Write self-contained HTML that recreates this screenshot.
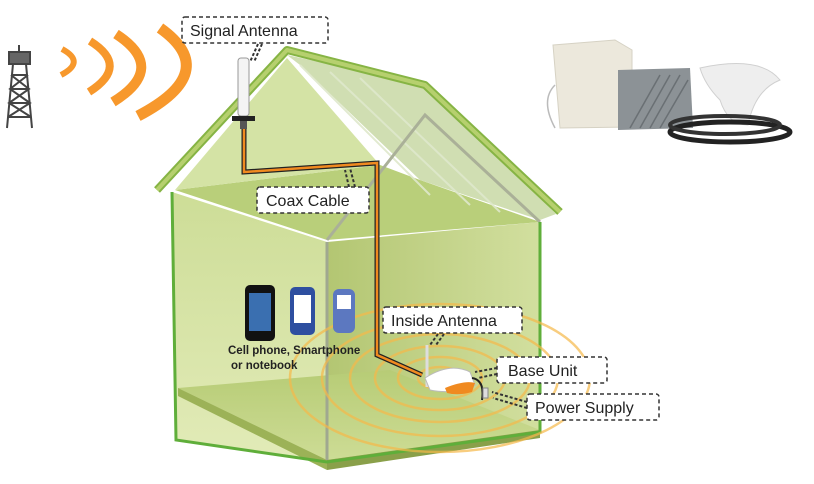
<!DOCTYPE html>
<html><head><meta charset="utf-8"><style>
html,body{margin:0;padding:0;background:#fff}
svg{display:block}
text{font-family:"Liberation Sans",sans-serif}
</style></head><body>
<svg width="814" height="484" viewBox="0 0 814 484" xmlns="http://www.w3.org/2000/svg">
<defs>
<linearGradient id="wall" x1="0" y1="0" x2="0" y2="1"><stop offset="0" stop-color="#cddd97"/><stop offset="1" stop-color="#e2ebb8"/></linearGradient>
<linearGradient id="wallr" x1="0" y1="0" x2="1" y2="0"><stop offset="0" stop-color="#b3c672"/><stop offset="1" stop-color="#d2df9f"/></linearGradient>
<linearGradient id="floor" x1="0" y1="0" x2="0" y2="1"><stop offset="0" stop-color="#b7cc76"/><stop offset="1" stop-color="#cddc95"/></linearGradient>
</defs>
<!-- tower -->
<g stroke="#444" stroke-width="2" fill="none">
<rect x="9" y="52" width="21" height="12" fill="#666"/>
<path d="M13 64 L7 128 M26 64 L32 128 M11 75 L28 75 M10 89 L29 89 M9 103 L30 103 M8 117 L31 117 M11 75 L29 89 L9 103 L31 117 M28 75 L10 89 L30 103 L8 117"/>
<line x1="19" y1="45" x2="19" y2="52"/>
</g>
<!-- waves -->
<g fill="none" stroke="#f7982c" stroke-linecap="butt">
<path d="M62 49 Q86 62 61 75" stroke-width="6"/>
<path d="M90 41 Q130 66 89 92" stroke-width="8"/>
<path d="M116 34 Q168 68 113 102" stroke-width="10"/>
<path d="M160 28 Q222 72 138 116" stroke-width="11"/>
</g>
<!-- house -->
<polygon points="172,192 176,440 327,462 327,242" fill="url(#wall)"/>
<polygon points="327,242 540,222 540,432 327,462" fill="url(#wallr)"/>
<polygon points="178,388 327,460 540,430 390,370" fill="url(#floor)"/>
<polygon points="178,388 327,460 327,470 178,396" fill="#9cb257"/>
<polygon points="327,460 540,430 540,438 327,470" fill="#8aa04a"/>
<!-- ceiling -->
<polygon points="175,190 327,240 540,222 420,180 380,165" fill="#b9cf7a"/>
<!-- gable -->
<polygon points="175,190 287,58 380,165" fill="#d4e3a5"/>
<!-- roof right (translucent) -->
<polygon points="287,55 425,85 556,214 540,220 420,180 300,65" fill="#c8d8a5" opacity="0.85"/>
<g stroke="#dfe8cc" stroke-width="2" opacity="0.9">
<line x1="300" y1="65" x2="430" y2="195"/><line x1="330" y1="72" x2="470" y2="205"/><line x1="360" y1="78" x2="500" y2="212"/>
</g>
<polyline points="327,242 327,460" stroke="#a0a890" stroke-width="3" fill="none"/>
<polyline points="327,240 425,115 540,222" stroke="#aab098" stroke-width="3" fill="none"/>
<!-- roof edges -->
<polyline points="157,190 287,50 425,85 560,212" stroke="#86b444" stroke-width="8" fill="none" stroke-linejoin="round"/>
<polyline points="157,190 287,50 425,85 560,212" stroke="#b6d06e" stroke-width="4" fill="none" stroke-linejoin="round"/>
<polyline points="172,192 176,440 327,462 540,432 540,222" stroke="#5fae3a" stroke-width="3" fill="none"/>
<!-- rings -->
<g fill="none" stroke="#f6b94a" stroke-width="2.5" opacity="0.7">
<ellipse cx="440" cy="378" rx="22" ry="11"/><ellipse cx="440" cy="378" rx="42" ry="21"/>
<ellipse cx="440" cy="378" rx="65" ry="32"/><ellipse cx="440" cy="378" rx="90" ry="44"/>
<ellipse cx="440" cy="378" rx="118" ry="58"/><ellipse cx="440" cy="378" rx="150" ry="74"/>
</g>
<!-- cable -->
<polyline points="244,128 244,172 377,163 377,355 422,375" fill="none" stroke="#222" stroke-width="5"/>
<polyline points="244,128 244,172 377,163 377,355 422,375" fill="none" stroke="#f08a20" stroke-width="2.5"/>
<!-- antenna -->
<rect x="238" y="58" width="11" height="58" rx="3" fill="#f4f4f4" stroke="#999"/>
<rect x="232" y="116" width="23" height="5" fill="#222"/>
<rect x="240" y="121" width="7" height="8" fill="#555"/>
<!-- phones -->
<rect x="245" y="285" width="30" height="56" rx="5" fill="#111"/><rect x="249" y="293" width="22" height="38" fill="#3a6fb0"/>
<rect x="290" y="287" width="25" height="48" rx="5" fill="#2e4fa0"/><rect x="294" y="295" width="17" height="28" fill="#fff"/>
<rect x="333" y="289" width="22" height="44" rx="6" fill="#5c78c0"/><rect x="337" y="295" width="14" height="14" fill="#fff"/>
<text x="228" y="354" font-size="11.5" font-weight="bold" fill="#222">Cell phone, Smartphone</text>
<text x="231" y="369" font-size="11.5" font-weight="bold" fill="#222">or notebook</text>
<!-- base unit -->
<line x1="427" y1="345" x2="427" y2="387" stroke="#ddd" stroke-width="3"/>
<path d="M425 378 Q450 362 470 372 L475 385 Q455 395 430 390Z" fill="#fff" stroke="#bbb"/>
<path d="M445 388 Q465 380 475 383 L472 392 Q458 396 447 393Z" fill="#f08a20"/>
<path d="M472 378 Q485 380 482 400" stroke="#222" stroke-width="2" fill="none"/>
<rect x="483" y="388" width="5" height="10" fill="#ddd" stroke="#888"/>
<!-- dashed leaders -->
<g stroke="#333" stroke-width="2" stroke-dasharray="3,2" fill="none">
<path d="M258 44 L250 62 M262 44 L254 62"/>
<path d="M355 187 L350 168 M349 187 L345 170"/>
<path d="M438 334 L430 345 M444 334 L436 345"/>
<path d="M497 368 L475 372 M497 374 L478 378"/>
<path d="M527 402 L492 392 M527 408 L493 398"/>
</g>
<!-- labels -->
<g stroke="#333" stroke-width="1.5" stroke-dasharray="4,3" fill="#fff">
<rect x="182" y="17" width="146" height="26" rx="3"/>
<rect x="257" y="187" width="112" height="26" rx="3"/>
<rect x="383" y="307" width="139" height="26" rx="3"/>
<rect x="497" y="357" width="110" height="26" rx="3"/>
<rect x="527" y="394" width="132" height="26" rx="3"/>
</g>
<g font-size="16" fill="#222">
<text x="190" y="36">Signal Antenna</text>
<text x="266" y="206">Coax Cable</text>
<text x="391" y="326">Inside Antenna</text>
<text x="508" y="376">Base Unit</text>
<text x="535" y="413">Power Supply</text>
</g>
<!-- products -->
<polygon points="553,45 615,40 632,50 632,127 560,128" fill="#ece8dc" stroke="#d6d2c4"/>
<path d="M555 85 Q540 100 555 128" stroke="#bbb" fill="none" stroke-width="1.5"/>
<polygon points="618,70 690,68 693,128 618,130" fill="#8c9296"/>
<g stroke="#6a7074" stroke-width="1.5"><line x1="630" y1="128" x2="660" y2="75"/><line x1="640" y1="128" x2="670" y2="75"/><line x1="650" y1="128" x2="680" y2="75"/><line x1="660" y1="128" x2="688" y2="80"/></g>
<path d="M700 68 Q760 55 780 80 Q755 90 748 125 Q728 125 720 100 Q705 85 700 68Z" fill="#eeeeee" stroke="#d0d0d0"/>
<ellipse cx="730" cy="132" rx="60" ry="10" fill="none" stroke="#222" stroke-width="5"/>
<ellipse cx="725" cy="125" rx="55" ry="9" fill="none" stroke="#333" stroke-width="4"/>
</svg>
</body></html>
